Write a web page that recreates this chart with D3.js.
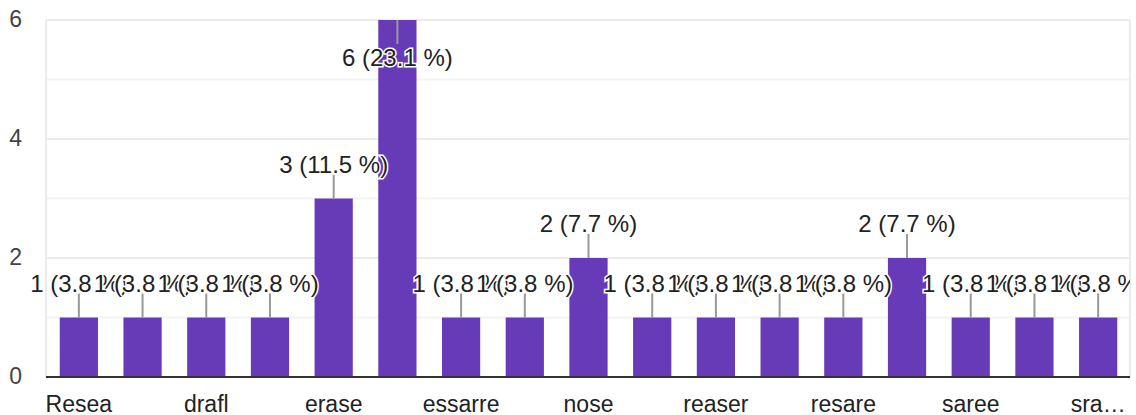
<!DOCTYPE html>
<html>
<head>
<meta charset="utf-8">
<script src="https://cdn.jsdelivr.net/npm/d3@7"></script>
<style>
  body { margin: 0; background: #fff; }
  svg { display: block; font-family: "Liberation Sans", Arial, sans-serif; }
</style>
</head>
<body>
<div id="chart"></div>
<script>
// answers (only every other name shows on the axis)
const categories = ["Resea", "arrase", "drafl", "ease", "erase", "eraser", "essarre", "ness",
    "nose", "raser", "reaser", "rears", "resare", "sare", "saree", "sear", "sra…"];
const counts = [1, 1, 1, 1, 3, 6, 1, 1, 2, 1, 1, 1, 1, 2, 1, 1, 1];
const yTicks = [0, 2, 4, 6];
const yGrid = [1, 3, 5];

const width = 1136, height = 415;
const plot = {left: 47, right: 1130, top: 20, bottom: 377};
const total = d3.sum(counts);
const data = categories.map((c, i) => ({name: c, value: counts[i], i: i}));

const svg = d3.select("#chart")
    .append("svg")
    .attr("width", width)
    .attr("height", height);

svg.append("defs").append("clipPath")
    .attr("id", "clip")
    .append("rect")
    .attr("x", 0).attr("y", 0)
    .attr("width", plot.right).attr("height", height);

const x = d3.scaleBand()
    .domain(categories)
    .range([plot.left, plot.right])
    .paddingInner(0.4)
    .paddingOuter(0.2);

const y = d3.scaleLinear()
    .domain([0, 6])
    .range([plot.bottom, plot.top]);

// grid
svg.append("g")
    .selectAll("line")
    .data(yTicks.concat(yGrid))
    .join("line")
    .attr("x1", plot.left - 1)
    .attr("x2", plot.right)
    .attr("y1", d => y(d))
    .attr("y2", d => y(d))
    .attr("stroke", d => yGrid.includes(d) ? "#f3f3f3" : "#ebebeb")
    .attr("stroke-width", 2);

svg.append("g")
    .selectAll("line")
    .data([plot.left - 1, plot.right])
    .join("line")
    .attr("x1", d => d).attr("x2", d => d)
    .attr("y1", plot.top).attr("y2", plot.bottom)
    .attr("stroke", "#ebebeb")
    .attr("stroke-width", 2);

// y labels
const yAxis = svg.append("g")
    .attr("transform", `translate(${plot.left - 25},0)`)
    .call(d3.axisLeft(y).tickValues(yTicks).tickFormat(d3.format("d")).tickSize(0).tickPadding(0));
yAxis.select(".domain").remove();
yAxis.selectAll("text")
    .attr("font-size", 23)
    .attr("font-family", "Liberation Sans, Arial, sans-serif")
    .attr("fill", "#444")
    .attr("dy", "0.3em");

// bars
svg.append("g")
    .selectAll("rect")
    .data(data)
    .join("rect")
    .attr("x", d => x(d.name))
    .attr("y", d => y(d.value))
    .attr("width", x.bandwidth())
    .attr("height", d => y(0) - y(d.value))
    .attr("fill", "#673ab7");

// baseline
svg.append("line")
    .attr("x1", plot.left - 1).attr("x2", plot.right)
    .attr("y1", y(0)).attr("y2", y(0))
    .attr("stroke", "#333")
    .attr("stroke-width", 2);

// x labels, every other one
const xAxis = svg.append("g")
    .attr("transform", `translate(0,${plot.bottom})`)
    .call(d3.axisBottom(x)
        .tickValues(categories.filter((c, i) => i % 2 === 0))
        .tickSize(0).tickPadding(19));
xAxis.select(".domain").remove();
xAxis.selectAll("text")
    .attr("font-size", 23)
    .attr("font-family", "Liberation Sans, Arial, sans-serif")
    .attr("fill", "#222");

// annotations
const stem = 24;
const ann = svg.append("g").attr("clip-path", "url(#clip)");
data.forEach(d => {
    const cx = x(d.name) + x.bandwidth() / 2;
    const top = y(d.value);
    const inside = top - stem - 20 < plot.top;
    const y1 = inside ? top + stem : top - stem;
    ann.append("line")
        .attr("x1", cx).attr("x2", cx)
        .attr("y1", top).attr("y2", y1)
        .attr("stroke", "#999")
        .attr("stroke-width", 2);
    ann.append("text")
        .attr("x", cx)
        .attr("y", inside ? y1 + 22 : y1 - 2)
        .attr("text-anchor", "middle")
        .attr("font-size", 24)
        .attr("fill", "#222")
        .attr("stroke", "#fff")
        .attr("stroke-width", 3)
        .attr("paint-order", "stroke")
        .text(`${d.value} (${(d.value / total * 100).toFixed(1)} %)`);
});
</script>
</body>
</html>
